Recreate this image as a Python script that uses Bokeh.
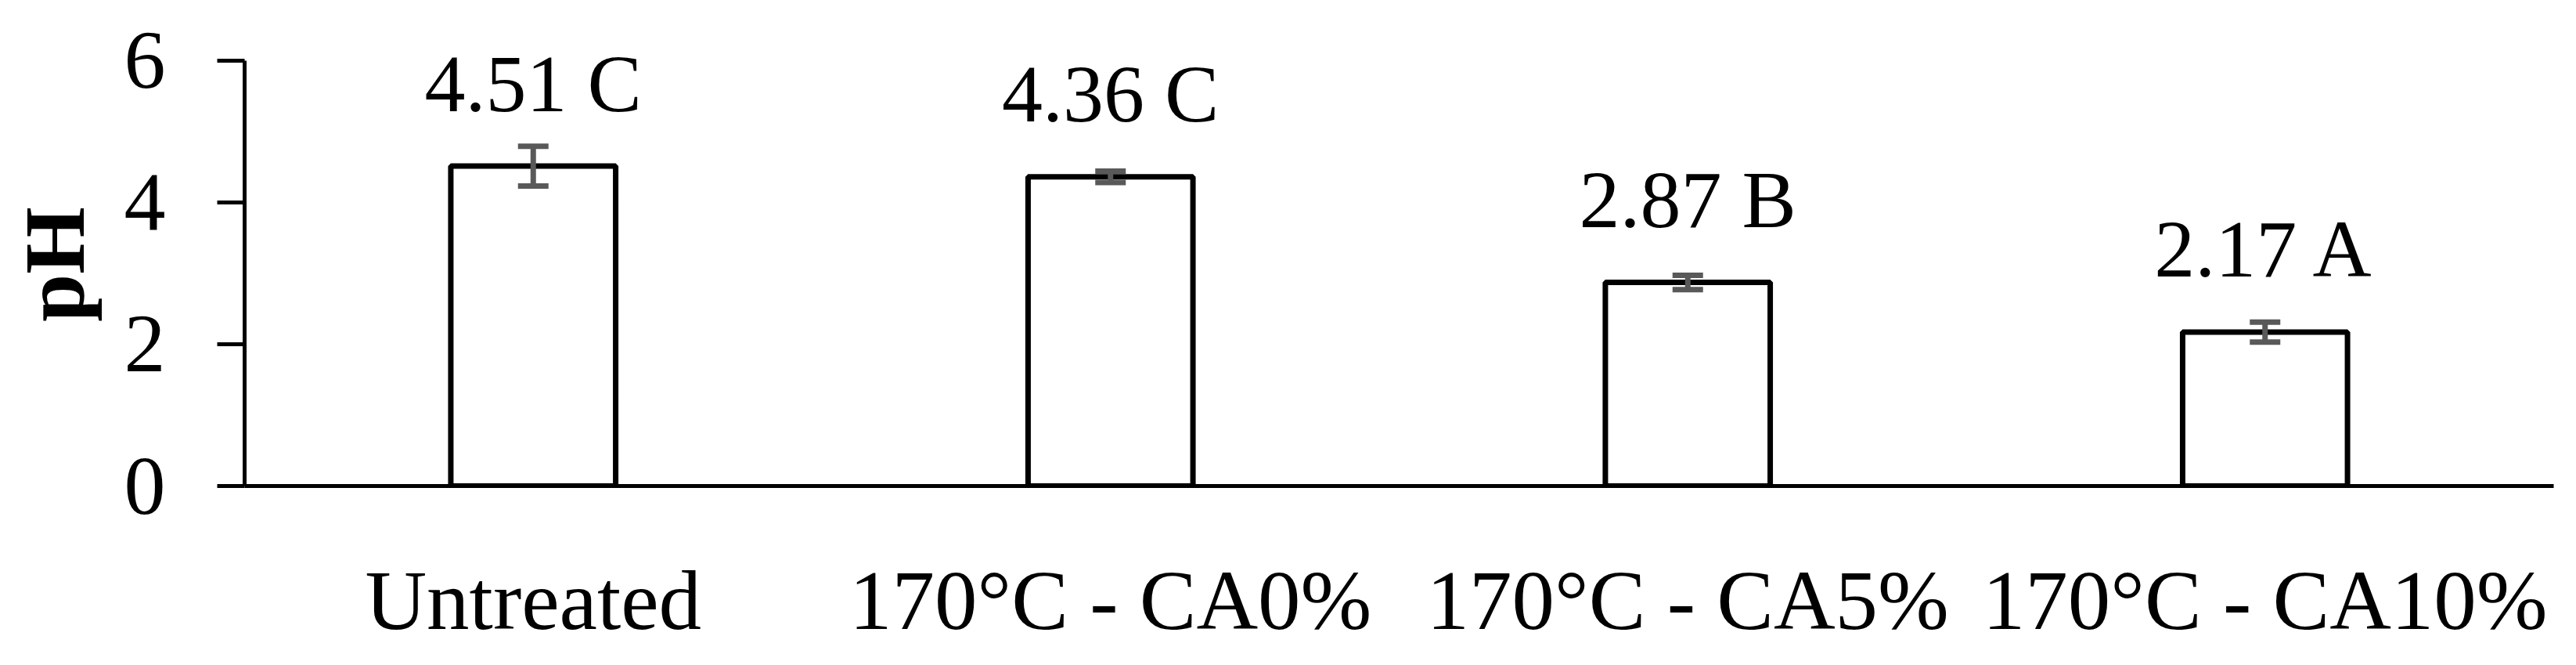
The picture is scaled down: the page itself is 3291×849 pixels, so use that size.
from bokeh.plotting import figure
from bokeh.models import FactorRange, Range1d, FixedTicker, Whisker, TeeHead, ColumnDataSource
from bokeh.embed import file_html
from bokeh.resources import INLINE
from bokeh.core.properties import value

categories = ["Untreated", "170°C - CA0%", "170°C - CA5%", "170°C - CA10%"]
ph_values = [4.51, 4.36, 2.87, 2.17]
ph_errors = [0.28, 0.08, 0.10, 0.14]
letters = ["C", "C", "B", "A"]
y_ticks = [0, 2, 4, 6]

labels = [f"{v:.2f} {l}" for v, l in zip(ph_values, letters)]
upper = [v + e for v, e in zip(ph_values, ph_errors)]
lower = [v - e for v, e in zip(ph_values, ph_errors)]
src = ColumnDataSource(dict(cat=categories, val=ph_values, upper=upper, lower=lower, label=labels))

FONT = "Liberation Serif"
FS = "106px"
GRAY = "#595959"

p = figure(x_range=FactorRange(*categories), y_range=Range1d(0, 6.25),
           width=3275, height=833, output_backend="svg", toolbar_location=None,
           min_border_left=312, min_border_right=13, min_border_top=54, min_border_bottom=213)
p.background_fill_color = "white"
p.border_fill_color = "white"
p.outline_line_color = None
p.xgrid.grid_line_color = None
p.ygrid.grid_line_color = None

p.vbar(x="cat", top="val", width=0.2856, source=src, fill_color="white",
       line_color="black", line_width=7)

w = Whisker(base="cat", upper="upper", lower="lower", source=src, level="overlay",
            line_color=GRAY, line_width=7,
            upper_head=TeeHead(size=39, line_color=GRAY, line_width=7),
            lower_head=TeeHead(size=39, line_color=GRAY, line_width=7))
p.add_layout(w)

p.text(x="cat", y="val", text="label", source=src, y_offset=-106,
       text_align="center", text_baseline="alphabetic",
       text_font=value(FONT), text_font_size="104px", text_color="black")

for ax in (p.xaxis[0], p.yaxis[0]):
    ax.axis_line_width = 5
    ax.axis_line_color = "black"
    ax.major_label_text_font = FONT
    ax.major_label_text_font_size = FS
    ax.major_label_text_color = "black"
    ax.minor_tick_line_color = None

p.yaxis.ticker = FixedTicker(ticks=y_ticks)
p.yaxis.bounds = (0, 6)
p.yaxis.major_tick_out = 35
p.yaxis.major_tick_in = 0
p.yaxis.major_tick_line_width = 5
p.yaxis.major_tick_line_color = "black"
p.yaxis.major_label_standoff = 66
p.yaxis.axis_label = "pH"
p.yaxis.axis_label_text_font = FONT
p.yaxis.axis_label_text_font_size = "110px"
p.yaxis.axis_label_text_font_style = "bold"
p.yaxis.axis_label_text_color = "black"
p.yaxis.axis_label_standoff = 25

p.xaxis.major_tick_line_color = None
p.xaxis.major_tick_out = 0
p.xaxis.major_tick_in = 0
p.xaxis.major_label_text_font_size = "109px"
p.xaxis.major_label_standoff = 85

open("out.html", "w").write(file_html(p, INLINE))
